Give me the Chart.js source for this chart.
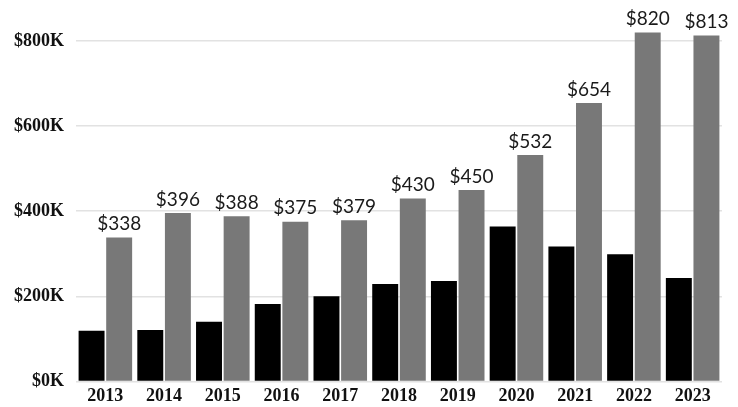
<!DOCTYPE html>
<html>
<head>
<meta charset="utf-8">
<script src="https://cdn.jsdelivr.net/npm/chart.js@4/dist/chart.umd.min.js"></script>
<style>
  html, body { margin: 0; padding: 0; background: #fff; overflow: hidden; }
  #wrap { width: 738px; height: 411px; }
</style>
</head>
<body>
<div id="wrap"><canvas id="myChart"></canvas></div>
<script>
// values in $K
const years = ['2013', '2014', '2015', '2016', '2017', '2018', '2019', '2020', '2021', '2022', '2023'];
const blackVals = [119, 121, 140, 182, 200, 229, 236, 364, 317, 299, 243];
const grayVals = [338, 396, 388, 375, 379, 430, 450, 532, 654, 820, 813];
const yTicks = [0, 200, 400, 600, 800];

// draws "$338" etc above the gray bars
const topLabels = {
  id: 'topLabels',
  afterDatasetsDraw(chart) {
    const ctx = chart.ctx;
    const meta = chart.getDatasetMeta(1);
    ctx.save();
    ctx.font = '19px Lato';
    ctx.fillStyle = '#1a1a1a';
    ctx.textAlign = 'center';
    ctx.textBaseline = 'bottom';
    meta.data.forEach((bar, i) => {
      ctx.fillText('$' + grayVals[i], bar.x, bar.y - 4);
    });
    ctx.restore();
  }
};

const ctx = document.getElementById('myChart');
new Chart(ctx, {
  type: 'bar',
  data: {
    labels: years,
    datasets: [
      { data: blackVals, backgroundColor: '#000000', clip: false },
      { data: grayVals, backgroundColor: '#787878', clip: false }
    ]
  },
  options: {
    responsive: true,
    maintainAspectRatio: false,
    animation: false,
    layout: { padding: { top: 41, right: 16, left: 2, bottom: 0 } },
    datasets: { bar: { categoryPercentage: 0.94, barPercentage: 0.94 } },
    plugins: { legend: { display: false }, tooltip: { enabled: false } },
    scales: {
      x: {
        grid: { display: false, drawTicks: false },
        border: { display: false },
        ticks: {
          color: '#111',
          font: { family: 'Liberation Serif', weight: 'bold', size: 18 },
          padding: 4
        }
      },
      y: {
        min: 0,
        max: 800,
        afterBuildTicks(scale) { scale.ticks = yTicks.map(v => ({ value: v })); },
        grid: { color: '#e2e2e2', lineWidth: 1.5, drawTicks: false },
        border: { display: false },
        ticks: {
          color: '#111',
          font: { family: 'Liberation Serif', weight: 'bold', size: 18 },
          padding: 12,
          callback: v => '$' + v + 'K'
        }
      }
    }
  },
  plugins: [topLabels]
});
</script>
</body>
</html>
